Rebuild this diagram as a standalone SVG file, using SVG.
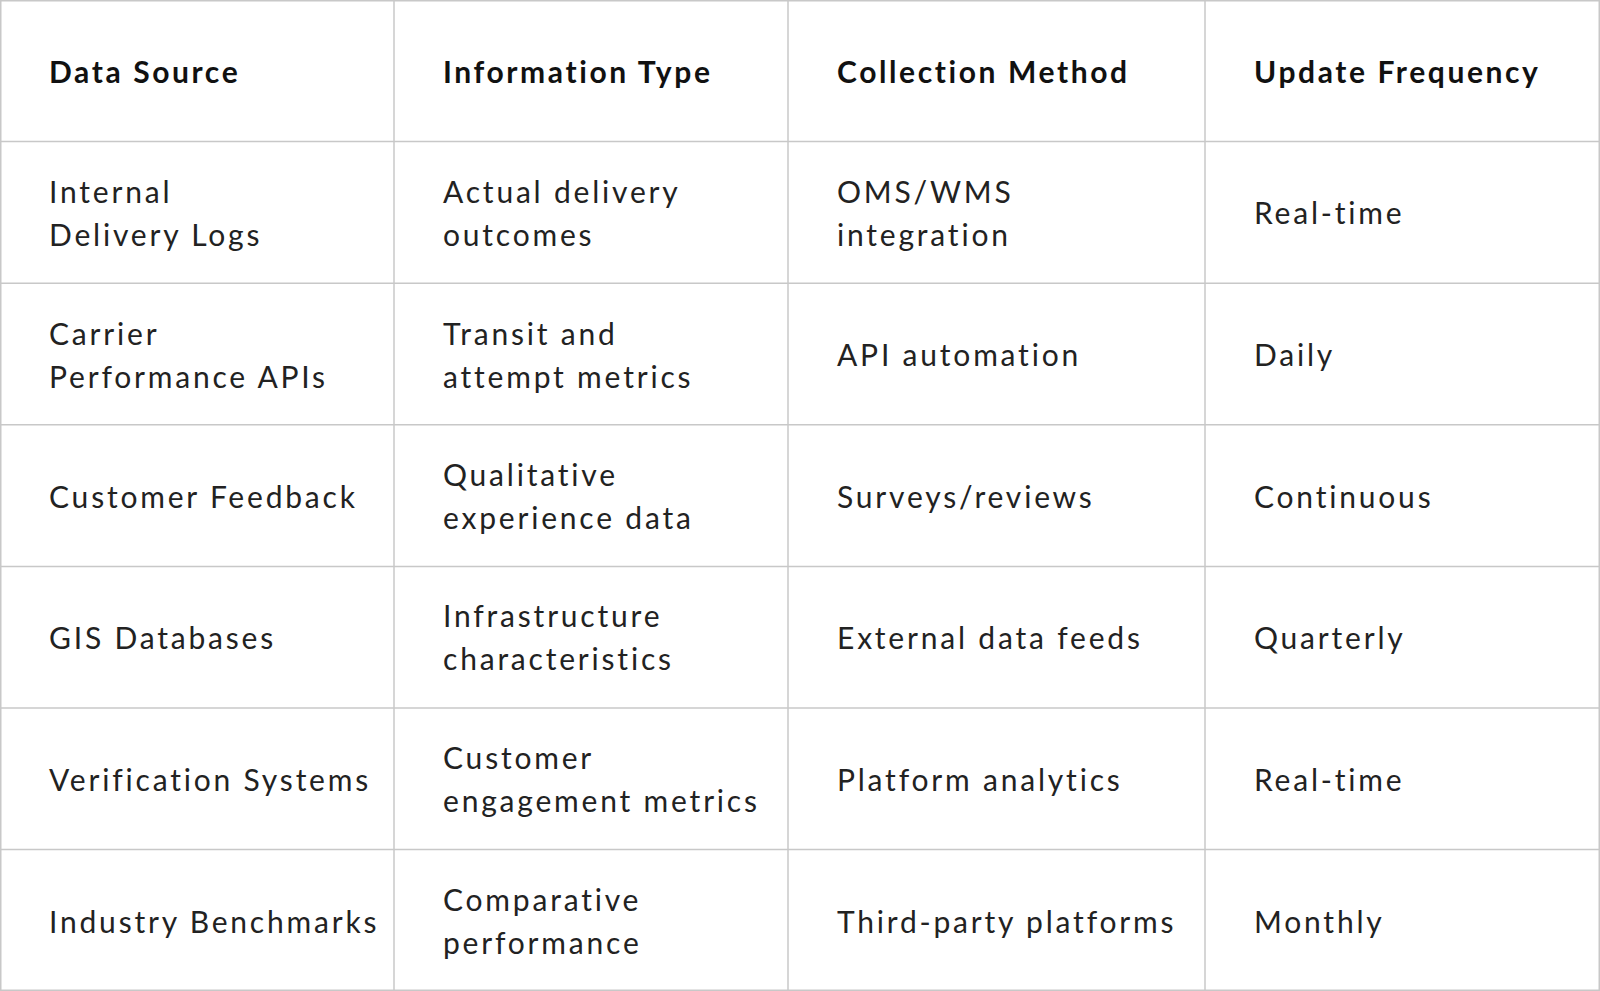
<svg xmlns="http://www.w3.org/2000/svg" width="1600" height="991" viewBox="0 0 1600 991">
<style>
text{font-family:Lato,"Liberation Sans",sans-serif;font-size:30px;fill:#222;letter-spacing:2.8px}
.h{font-weight:bold;fill:#111;letter-spacing:2.6px}
line{stroke:#c8c8c8;stroke-width:1.5}
</style>
<rect width="1600" height="991" fill="#fff"/>
<g id="grid">
<rect x="0.75" y="0.75" width="1598.5" height="989.5" fill="none" stroke="#c8c8c8" stroke-width="1.5"/>
<line x1="394" y1="0" x2="394" y2="991"/><line x1="788" y1="0" x2="788" y2="991"/><line x1="1205" y1="0" x2="1205" y2="991"/>
<line x1="0" y1="141.6" x2="1600" y2="141.6"/><line x1="0" y1="283.2" x2="1600" y2="283.2"/><line x1="0" y1="424.8" x2="1600" y2="424.8"/><line x1="0" y1="566.4" x2="1600" y2="566.4"/><line x1="0" y1="708" x2="1600" y2="708"/><line x1="0" y1="849.6" x2="1600" y2="849.6"/>
</g>
<g id="header">
<text class="h" x="49" y="83">Data Source</text><text class="h" x="443" y="83">Information Type</text><text class="h" x="837" y="83">Collection Method</text><text class="h" x="1254" y="83">Update Frequency</text>
</g>
<g id="row1"><text x="49" y="203">Internal</text><text x="49" y="246">Delivery Logs</text><text x="443" y="203">Actual delivery</text><text x="443" y="246">outcomes</text><text x="837" y="203">OMS/WMS</text><text x="837" y="246">integration</text><text x="1254" y="224">Real-time</text></g>
<g id="row2"><text x="49" y="345">Carrier</text><text x="49" y="388">Performance APIs</text><text x="443" y="345">Transit and</text><text x="443" y="388">attempt metrics</text><text x="837" y="366">API automation</text><text x="1254" y="366">Daily</text></g>
<g id="row3"><text x="49" y="508">Customer Feedback</text><text x="443" y="486">Qualitative</text><text x="443" y="529">experience data</text><text x="837" y="508">Surveys/reviews</text><text x="1254" y="508">Continuous</text></g>
<g id="row4"><text x="49" y="649">GIS Databases</text><text x="443" y="627">Infrastructure</text><text x="443" y="670">characteristics</text><text x="837" y="649">External data feeds</text><text x="1254" y="649">Quarterly</text></g>
<g id="row5"><text x="49" y="791">Verification Systems</text><text x="443" y="769">Customer</text><text x="443" y="812">engagement metrics</text><text x="837" y="791">Platform analytics</text><text x="1254" y="791">Real-time</text></g>
<g id="row6"><text x="49" y="933">Industry Benchmarks</text><text x="443" y="911">Comparative</text><text x="443" y="954">performance</text><text x="837" y="933">Third-party platforms</text><text x="1254" y="933">Monthly</text></g>
</svg>
